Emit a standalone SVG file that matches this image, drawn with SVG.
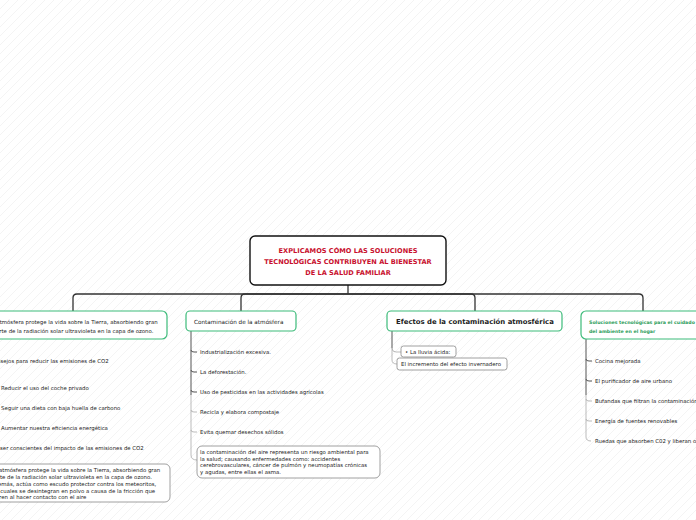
<svg xmlns="http://www.w3.org/2000/svg" width="696" height="520" viewBox="0 0 696 520">
<defs>
<pattern id="bg" patternUnits="userSpaceOnUse" width="9" height="9">
<path d="M-1,1 L1,-1 M0,9 L9,0 M8,10 L10,8" stroke="#ececec" stroke-width="0.6"/>
</pattern>
</defs>
<style>
text{font-family:"DejaVu Sans","Liberation Sans",sans-serif;fill:#222}
.main{fill:#fff;stroke:#111;stroke-width:1.4}
.topic{fill:#fff;stroke:#3dbb7a;stroke-width:1.2}
.sub{fill:#fff;stroke:#888;stroke-width:0.8}
.ctitle{font-size:6.6px;font-weight:bold;fill:#c8102e}
.t{font-size:5.7px}
.i{font-size:5.4px}
.conn{fill:none;stroke:#333;stroke-width:1.3}
.br{fill:none;stroke:#555;stroke-width:1}
.brl{fill:none;stroke:#aaa;stroke-width:0.8}
</style>
<rect width="696" height="520" fill="#fff"/>
<rect width="696" height="520" fill="url(#bg)"/>

<g id="connectors">
<path class="conn" d="M348,285 V294"/>
<path class="conn" d="M348,294 H77 Q73,294 73,298 V311"/>
<path class="conn" d="M348,294 H245 Q241,294 241,298 V311"/>
<path class="conn" d="M348,294 H471 Q475,294 475,298 V311"/>
<path class="conn" d="M348,294 H639 Q643,294 643,298 V311"/>
<path class="br" d="M191,331 V395"/>
<path class="brl" d="M191,395 V455 Q191,460 197,460"/>
<path class="br" d="M191,350 Q191,352 194,352 H197"/>
<path class="br" d="M191,370 Q191,372 194,372 H197"/>
<path class="br" d="M191,390 Q191,392 194,392 H197"/>
<path class="brl" d="M191,410 Q191,412 194,412 H197"/>
<path class="brl" d="M191,430 Q191,432 194,432 H197"/>
<path class="br" d="M392,331 V348"/>
<path class="brl" d="M392,348 V360 Q392,364 397,364"/>
<path class="brl" d="M392,348 Q392,352 396,352 H401"/>
<path class="br" d="M586,339 V395"/>
<path class="brl" d="M586,395 V437 Q586,441 591,441"/>
<path class="br" d="M586,359 Q586,361 589,361 H592"/>
<path class="br" d="M586,379 Q586,381 589,381 H592"/>
<path class="brl" d="M586,399 Q586,401 589,401 H592"/>
<path class="brl" d="M586,419 Q586,421 589,421 H592"/>
</g>

<g id="central">
<rect class="main" x="250" y="236" width="196" height="49" rx="5"/>
<text class="ctitle" x="348" y="253" text-anchor="middle">EXPLICAMOS CÓMO LAS SOLUCIONES</text>
<text class="ctitle" x="348" y="264" text-anchor="middle">TECNOLÓGICAS CONTRIBUYEN AL BIENESTAR</text>
<text class="ctitle" x="348" y="275" text-anchor="middle">DE LA SALUD FAMILIAR</text>
</g>

<g id="atmosfera">
<rect class="topic" x="-24" y="311" width="191" height="28" rx="5"/>
<text class="i" x="73" y="324" text-anchor="middle">La atmósfera protege la vida sobre la Tierra, absorbiendo gran</text>
<text class="i" x="73" y="333" text-anchor="middle">parte de la radiación solar ultravioleta en la capa de ozono.</text>
</g>
<g id="consejos"><text class="i" x="-10" y="363">Consejos para reducir las emisiones de CO2</text></g>
<g id="coche"><text class="i" x="1" y="390">Reducir el uso del coche privado</text></g>
<g id="dieta"><text class="i" x="1" y="410">Seguir una dieta con baja huella de carbono</text></g>
<g id="eficiencia"><text class="i" x="1" y="430">Aumentar nuestra eficiencia energética</text></g>
<g id="conscientes"><text class="i" x="0" y="450">ser conscientes del impacto de las emisiones de CO2</text></g>
<g id="atmosfera2">
<rect class="sub" x="-20" y="464" width="190" height="38" rx="5"/>
<text class="i" x="-9" y="472">La atmósfera protege la vida sobre la Tierra, absorbiendo gran</text>
<text class="i" x="-9" y="479">parte de la radiación solar ultravioleta en la capa de ozono.</text>
<text class="i" x="-9" y="486">Además, actúa como escudo protector contra los meteoritos,</text>
<text class="i" x="-9" y="493">los cuales se desintegran en polvo a causa de la fricción que</text>
<text class="i" x="-9" y="499">sufren al hacer contacto con el aire</text>
</g>

<g id="contaminacion">
<rect class="topic" x="186" y="311" width="110" height="20" rx="4"/>
<text class="t" x="194" y="324">Contaminación de la atmósfera</text>
</g>
<g id="industrializacion"><text class="i" x="200" y="354">Industrialización excesiva.</text></g>
<g id="deforestacion"><text class="i" x="200" y="374">La deforestación.</text></g>
<g id="pesticidas"><text class="i" x="200" y="394">Uso de pesticidas en las actividades agrícolas</text></g>
<g id="recicla"><text class="i" x="200" y="414">Recicla y elabora compostaje</text></g>
<g id="evita"><text class="i" x="200" y="434">Evita quemar desechos sólidos</text></g>
<g id="riesgo">
<rect class="sub" x="197" y="446" width="183" height="32" rx="5"/>
<text class="i" x="200" y="454">la contaminación del aire representa un riesgo ambiental para</text>
<text class="i" x="200" y="460.5">la salud; causando enfermedades como: accidentes</text>
<text class="i" x="200" y="467">cerebrovasculares, cáncer de pulmón y neumopatías crónicas</text>
<text class="i" x="200" y="473.5">y agudas, entre ellas el asma.</text>
</g>

<g id="efectos">
<rect class="topic" x="387" y="311" width="175" height="20" rx="4"/>
<text x="396" y="324" style="font-size:6.9px;font-weight:bold">Efectos de la contaminación atmosférica</text>
</g>
<g id="lluvia">
<rect class="sub" x="401" y="346" width="55" height="11" rx="2.5"/>
<text class="i" x="405" y="354">• La lluvia ácida:</text>
</g>
<g id="invernadero">
<rect class="sub" x="397" y="358" width="110" height="12" rx="2.5"/>
<text class="i" x="401" y="366">El incremento del efecto invernadero</text>
</g>

<g id="soluciones">
<rect class="topic" x="581" y="311" width="130" height="28" rx="5"/>
<text x="589" y="324" style="font-size:4.7px;font-weight:bold;fill:#2e9d5a">Soluciones tecnológicas para el cuidado</text>
<text x="589" y="333" style="font-size:4.7px;font-weight:bold;fill:#2e9d5a">del ambiente en el hogar</text>
</g>
<g id="cocina"><text class="i" x="595" y="363">Cocina mejorada</text></g>
<g id="purificador"><text class="i" x="595" y="383">El purificador de aire urbano</text></g>
<g id="bufandas"><text class="i" x="595" y="403">Bufandas que filtran la contaminación</text></g>
<g id="energia"><text class="i" x="595" y="423">Energía de fuentes renovables</text></g>
<g id="ruedas"><text class="i" x="595" y="443">Ruedas que absorben C02 y liberan oxígeno</text></g>
</svg>
